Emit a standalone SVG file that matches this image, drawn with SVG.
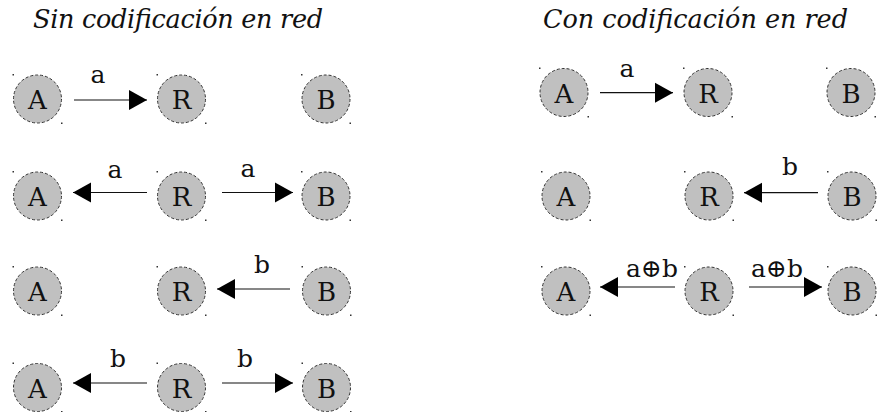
<svg xmlns="http://www.w3.org/2000/svg" width="882" height="412" viewBox="0 0 882 412">
  <style>
    text { font-family: "DejaVu Serif", serif; fill: #111; }
    .title { font-style: italic; font-size: 25.5px; }
    .disc { fill: #c0c0c0; stroke: #333; stroke-width: 1; stroke-dasharray: 3 2; }
    .dot { fill: #333; }
    .node text { font-size: 26px; text-anchor: middle; }
    .edges line { stroke: #111; stroke-width: 1.2; marker-end: url(#head); }
    .edges text { font-size: 25px; text-anchor: middle; }
  </style>
  <defs>
    <marker id="head" markerUnits="userSpaceOnUse" markerWidth="19" markerHeight="22" refX="18" refY="10" orient="auto" overflow="visible">
      <path d="M0,0 L18,10 L0,20 Z" fill="#000"/>
    </marker>
  </defs>

  <text class="title" x="33" y="28" textLength="290">Sin codificación en red</text>
  <text class="title" x="543" y="28" textLength="305">Con codificación en red</text>

  <!-- without network coding: each node is a dashed grey disc with two corner ticks -->
  <g id="n1A" class="node" transform="translate(37.5,99)"><circle class="disc" r="24"/><rect class="dot" x="-25" y="-25" width="1.5" height="1.5"/><rect class="dot" x="23.5" y="23.5" width="1.5" height="1.5"/><text y="10">A</text></g>
  <g id="n1R" class="node" transform="translate(181.5,99)"><circle class="disc" r="24"/><rect class="dot" x="-25" y="-25" width="1.5" height="1.5"/><rect class="dot" x="23.5" y="23.5" width="1.5" height="1.5"/><text y="10">R</text></g>
  <g id="n1B" class="node" transform="translate(326,99)"><circle class="disc" r="24"/><rect class="dot" x="-25" y="-25" width="1.5" height="1.5"/><rect class="dot" x="23.5" y="23.5" width="1.5" height="1.5"/><text y="10">B</text></g>

  <g id="n2A" class="node" transform="translate(37.5,196)"><circle class="disc" r="24"/><rect class="dot" x="-25" y="-25" width="1.5" height="1.5"/><rect class="dot" x="23.5" y="23.5" width="1.5" height="1.5"/><text y="10">A</text></g>
  <g id="n2R" class="node" transform="translate(181.5,196)"><circle class="disc" r="24"/><rect class="dot" x="-25" y="-25" width="1.5" height="1.5"/><rect class="dot" x="23.5" y="23.5" width="1.5" height="1.5"/><text y="10">R</text></g>
  <g id="n2B" class="node" transform="translate(326,196)"><circle class="disc" r="24"/><rect class="dot" x="-25" y="-25" width="1.5" height="1.5"/><rect class="dot" x="23.5" y="23.5" width="1.5" height="1.5"/><text y="10">B</text></g>

  <g id="n3A" class="node" transform="translate(37.5,291)"><circle class="disc" r="24"/><rect class="dot" x="-25" y="-25" width="1.5" height="1.5"/><rect class="dot" x="23.5" y="23.5" width="1.5" height="1.5"/><text y="10">A</text></g>
  <g id="n3R" class="node" transform="translate(181.5,291)"><circle class="disc" r="24"/><rect class="dot" x="-25" y="-25" width="1.5" height="1.5"/><rect class="dot" x="23.5" y="23.5" width="1.5" height="1.5"/><text y="10">R</text></g>
  <g id="n3B" class="node" transform="translate(326.5,291)"><circle class="disc" r="24"/><rect class="dot" x="-25" y="-25" width="1.5" height="1.5"/><rect class="dot" x="23.5" y="23.5" width="1.5" height="1.5"/><text y="10">B</text></g>

  <g id="n4A" class="node" transform="translate(37.5,387.5)"><circle class="disc" r="24"/><rect class="dot" x="-25" y="-25" width="1.5" height="1.5"/><rect class="dot" x="23.5" y="23.5" width="1.5" height="1.5"/><text y="10">A</text></g>
  <g id="n4R" class="node" transform="translate(181.5,387.5)"><circle class="disc" r="24"/><rect class="dot" x="-25" y="-25" width="1.5" height="1.5"/><rect class="dot" x="23.5" y="23.5" width="1.5" height="1.5"/><text y="10">R</text></g>
  <g id="n4B" class="node" transform="translate(326.5,387.5)"><circle class="disc" r="24"/><rect class="dot" x="-25" y="-25" width="1.5" height="1.5"/><rect class="dot" x="23.5" y="23.5" width="1.5" height="1.5"/><text y="10">B</text></g>

  <!-- with network coding -->
  <g id="m1A" class="node" transform="translate(564,92.5)"><circle class="disc" r="24"/><rect class="dot" x="-25" y="-25" width="1.5" height="1.5"/><rect class="dot" x="23.5" y="23.5" width="1.5" height="1.5"/><text y="10">A</text></g>
  <g id="m1R" class="node" transform="translate(708,92.5)"><circle class="disc" r="24"/><rect class="dot" x="-25" y="-25" width="1.5" height="1.5"/><rect class="dot" x="23.5" y="23.5" width="1.5" height="1.5"/><text y="10">R</text></g>
  <g id="m1B" class="node" transform="translate(851,92.5)"><circle class="disc" r="24"/><rect class="dot" x="-25" y="-25" width="1.5" height="1.5"/><rect class="dot" x="23.5" y="23.5" width="1.5" height="1.5"/><text y="10">B</text></g>

  <g id="m2A" class="node" transform="translate(566,196)"><circle class="disc" r="24"/><rect class="dot" x="-25" y="-25" width="1.5" height="1.5"/><rect class="dot" x="23.5" y="23.5" width="1.5" height="1.5"/><text y="10">A</text></g>
  <g id="m2R" class="node" transform="translate(709,196)"><circle class="disc" r="24"/><rect class="dot" x="-25" y="-25" width="1.5" height="1.5"/><rect class="dot" x="23.5" y="23.5" width="1.5" height="1.5"/><text y="10">R</text></g>
  <g id="m2B" class="node" transform="translate(852,196)"><circle class="disc" r="24"/><rect class="dot" x="-25" y="-25" width="1.5" height="1.5"/><rect class="dot" x="23.5" y="23.5" width="1.5" height="1.5"/><text y="10">B</text></g>

  <g id="m3A" class="node" transform="translate(566,291)"><circle class="disc" r="24"/><rect class="dot" x="-25" y="-25" width="1.5" height="1.5"/><rect class="dot" x="23.5" y="23.5" width="1.5" height="1.5"/><text y="10">A</text></g>
  <g id="m3R" class="node" transform="translate(709,291)"><circle class="disc" r="24"/><rect class="dot" x="-25" y="-25" width="1.5" height="1.5"/><rect class="dot" x="23.5" y="23.5" width="1.5" height="1.5"/><text y="10">R</text></g>
  <g id="m3B" class="node" transform="translate(852,291)"><circle class="disc" r="24"/><rect class="dot" x="-25" y="-25" width="1.5" height="1.5"/><rect class="dot" x="23.5" y="23.5" width="1.5" height="1.5"/><text y="10">B</text></g>

  <g id="edges" class="edges">
    <line x1="74" y1="100" x2="147" y2="100"/>
    <text x="98" y="83">a</text>

    <line x1="147" y1="192.5" x2="73" y2="192.5"/>
    <text x="115" y="178">a</text>
    <line x1="222" y1="192.5" x2="293" y2="192.5"/>
    <text x="248" y="177">a</text>

    <line x1="290" y1="289" x2="217" y2="289"/>
    <text x="262" y="273">b</text>

    <line x1="147" y1="383" x2="73" y2="383"/>
    <text x="118" y="367">b</text>
    <line x1="222" y1="383" x2="293" y2="383"/>
    <text x="245" y="367">b</text>

    <line x1="600" y1="92.7" x2="673" y2="92.7"/>
    <text x="627" y="77">a</text>

    <line x1="818" y1="192.7" x2="744" y2="192.7"/>
    <text x="790" y="175">b</text>

    <line x1="675" y1="287" x2="600" y2="287"/>
    <text x="652" y="277">a⊕b</text>
    <line x1="749" y1="287" x2="822" y2="287"/>
    <text x="777" y="277">a⊕b</text>
  </g>
</svg>
